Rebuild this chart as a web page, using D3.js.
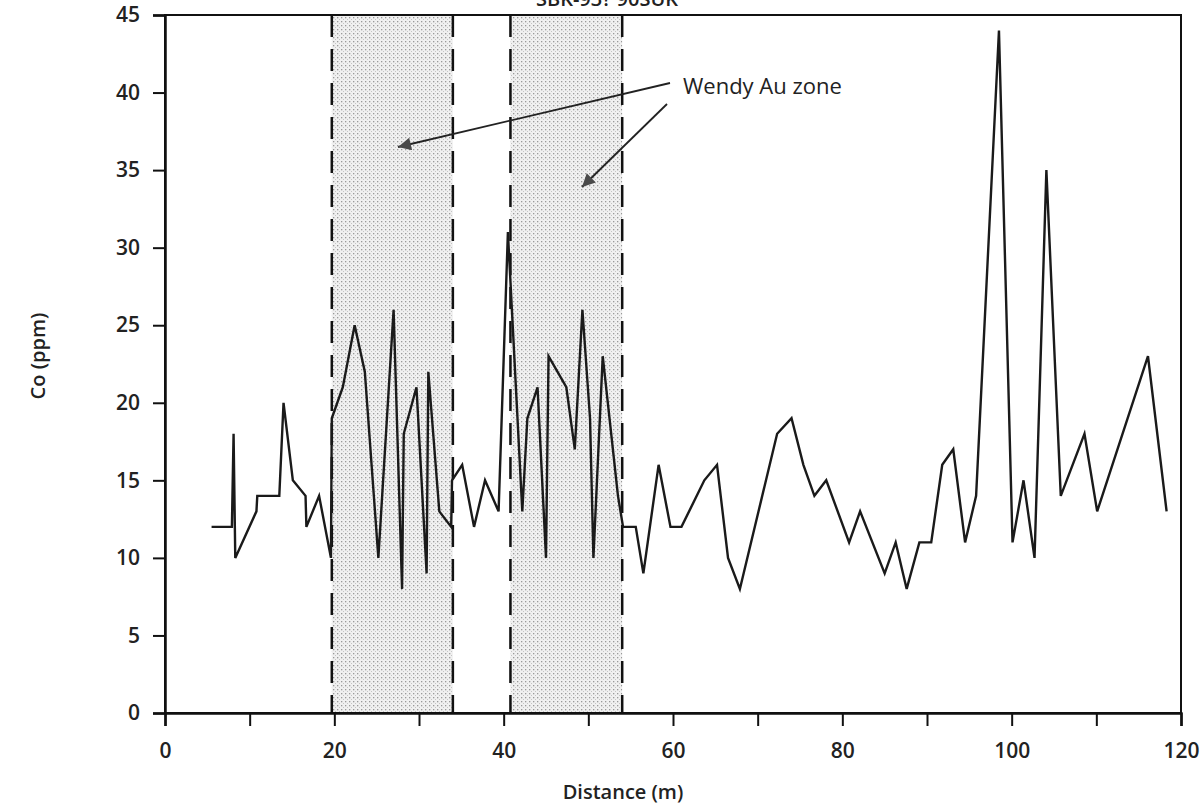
<!DOCTYPE html>
<html>
<head>
<meta charset="utf-8">
<script src="https://cdn.jsdelivr.net/npm/d3@7"></script>
<style>
  body { margin: 0; background: #fff; }
  svg { display: block; }
  .tick text { font-family: "Open Sans", sans-serif; font-weight: 600; font-size: 21px; fill: #222; }
</style>
</head>
<body>
<div id="chart"></div>
<script>
// sample distances (m) and Co values (ppm)
const distance = [5.5, 7.9, 8.1, 8.3, 10.8, 10.9, 13.5, 14.0, 15.1, 16.6,
    16.7, 18.2, 19.6, 19.7, 21.0, 22.4, 23.6, 25.2, 27.0, 28.0,
    28.2, 29.7, 30.9, 31.1, 32.4, 33.8, 33.9, 35.1, 36.5, 37.8,
    39.4, 40.5, 42.2, 42.8, 44.0, 45.0, 45.3, 47.4, 48.4, 49.3,
    50.2, 50.6, 51.7, 53.5, 54.1, 55.6, 56.5, 58.3, 59.7, 61.0,
    63.7, 65.2, 66.5, 67.9, 72.3, 74.0, 75.4, 76.7, 78.1, 80.8,
    82.1, 85.0, 86.3, 87.6, 89.1, 90.5, 91.8, 93.1, 94.5, 95.8,
    98.5, 100.1, 101.4, 102.7, 104.1, 105.8, 108.6, 110.1, 116.1, 118.3];
const cobalt = [12, 12, 18, 10, 13, 14, 14, 20, 15, 14,
    12, 14, 10, 19, 21, 25, 22, 10, 26, 8,
    18, 21, 9, 22, 13, 12, 15, 16, 12, 15,
    13, 31, 13, 19, 21, 10, 23, 21, 17, 26,
    19, 10, 23, 14, 12, 12, 9, 16, 12, 12,
    15, 16, 10, 8, 18, 19, 16, 14, 15, 11,
    13, 9, 11, 8, 11, 11, 16, 17, 11, 14,
    44, 11, 15, 10, 35, 14, 18, 13, 23, 13];

// the two shaded "Wendy Au zone" intervals (m)
const zoneStart = [19.7, 40.8];
const zoneEnd = [34.0, 54.0];

const xTicks = [0, 10, 20, 30, 40, 50, 60, 70, 80, 90, 100, 110, 120];
const xLabels = [0, 20, 40, 60, 80, 100, 120];
const yTicks = [0, 5, 10, 15, 20, 25, 30, 35, 40, 45];

const width = 1204, height = 806;
const margin = { top: 15, right: 23, bottom: 93, left: 165 };

const svg = d3.select("#chart").append("svg")
    .attr("width", width)
    .attr("height", height);

const x = d3.scaleLinear().domain([0, 120]).range([margin.left, width - margin.right]);
const y = d3.scaleLinear().domain([0, 45]).range([height - margin.bottom, margin.top]);

// stipple pattern for the zones
const defs = svg.append("defs");
const pat = defs.append("pattern")
    .attr("id", "stipple")
    .attr("patternUnits", "userSpaceOnUse")
    .attr("width", 4).attr("height", 4);
pat.append("rect").attr("width", 4).attr("height", 4).attr("fill", "#f0f0f0");
pat.append("rect").attr("x", 1).attr("y", 1).attr("width", 1.3).attr("height", 1.3).attr("fill", "#999");
pat.append("rect").attr("x", 3).attr("y", 3).attr("width", 1).attr("height", 1).attr("fill", "#c4c4c4");

const zones = zoneStart.map((s, i) => ({ s, e: zoneEnd[i] }));

svg.selectAll(".zone")
    .data(zones)
    .enter().append("rect")
    .attr("class", "zone")
    .attr("x", d => x(d.s))
    .attr("y", y(45))
    .attr("width", d => x(d.e) - x(d.s))
    .attr("height", y(0) - y(45))
    .attr("fill", "url(#stipple)");

// dashed edges
const edges = zoneStart.concat(zoneEnd);
svg.selectAll(".edge")
    .data(edges)
    .enter().append("line")
    .attr("x1", d => x(d)).attr("x2", d => x(d))
    .attr("y1", y(45)).attr("y2", y(0))
    .attr("stroke", "#111")
    .attr("stroke-width", 2.5)
    .attr("stroke-dasharray", "22,12");

// frame
svg.append("rect")
    .attr("x", x(0)).attr("y", y(45))
    .attr("width", x(120) - x(0))
    .attr("height", y(0) - y(45))
    .attr("fill", "none")
    .attr("stroke", "#111")
    .attr("stroke-width", 2);

// axes
const yAxis = svg.append("g")
    .attr("transform", `translate(${x(0)},0)`)
    .call(d3.axisLeft(y).tickValues(yTicks).tickSize(12).tickPadding(13));
yAxis.select(".domain").attr("stroke", "#111").attr("stroke-width", 2.5);
yAxis.selectAll(".tick line").attr("stroke", "#111").attr("stroke-width", 2);

const xAxis = svg.append("g")
    .attr("transform", `translate(0,${y(0)})`)
    .call(d3.axisBottom(x).tickValues(xTicks).tickSize(13).tickPadding(17)
        .tickFormat(d => xLabels.includes(d) ? d : ""));
xAxis.select(".domain").attr("stroke", "#111").attr("stroke-width", 2.5);
xAxis.selectAll(".tick line").attr("stroke", "#111").attr("stroke-width", 2);

// the Co profile
const points = distance.map((d, i) => [d, cobalt[i]]);
svg.append("path")
    .datum(points)
    .attr("fill", "none")
    .attr("stroke", "#1a1a1a")
    .attr("stroke-width", 2.4)
    .attr("stroke-linejoin", "miter")
    .attr("d", d3.line().x(d => x(d[0])).y(d => y(d[1])));

// axis titles
svg.append("text")
    .attr("x", 623)
    .attr("y", 799)
    .attr("text-anchor", "middle")
    .style("font-family", "Open Sans, sans-serif")
    .style("font-weight", 600)
    .style("font-size", "20px")
    .attr("fill", "#222")
    .text("Distance (m)");

svg.append("text")
    .attr("transform", "translate(45,356) rotate(-90)")
    .attr("text-anchor", "middle")
    .style("font-family", "Open Sans, sans-serif")
    .style("font-weight", 600)
    .style("font-size", "20px")
    .attr("fill", "#222")
    .text("Co (ppm)");

// title, cut off at the top edge as in the scan
svg.append("text")
    .attr("x", 607)
    .attr("y", 6)
    .attr("text-anchor", "middle")
    .style("font-family", "Open Sans, sans-serif")
    .style("font-weight", 600)
    .style("font-size", "20px")
    .attr("fill", "#222")
    .text("SBK-93? 90SUK");

// annotation
svg.append("text")
    .attr("x", 683)
    .attr("y", 94)
    .style("font-family", "Open Sans, sans-serif")
    .style("font-size", "22px")
    .attr("fill", "#222")
    .text("Wendy Au zone");

defs.append("marker")
    .attr("id", "head")
    .attr("viewBox", "0 0 10 10")
    .attr("refX", 10).attr("refY", 5)
    .attr("markerWidth", 20).attr("markerHeight", 13)
    .attr("markerUnits", "userSpaceOnUse")
    .attr("orient", "auto")
    .append("path")
    .attr("d", "M0,0 L10,5 L0,10 z")
    .attr("fill", "#4a4a4a");

const arrows = [[670, 83, 398, 147], [667, 104, 582, 187]];
svg.selectAll(".arrow")
    .data(arrows)
    .enter().append("line")
    .attr("x1", d => d[0]).attr("y1", d => d[1])
    .attr("x2", d => d[2]).attr("y2", d => d[3])
    .attr("stroke", "#222")
    .attr("stroke-width", 1.8)
    .attr("marker-end", "url(#head)");
</script>
</body>
</html>
